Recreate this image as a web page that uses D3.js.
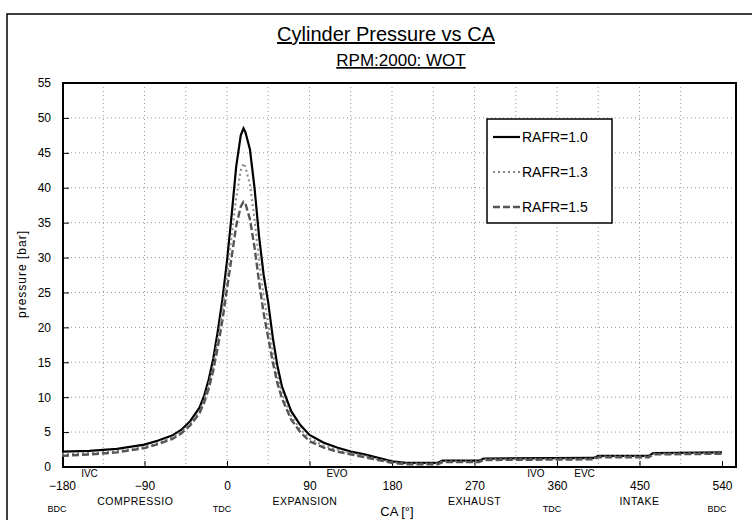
<!DOCTYPE html>
<html>
<head>
<meta charset="utf-8">
<script src="https://cdn.jsdelivr.net/npm/d3@7"></script>
<style>
  body { margin: 0; background: #fff; }
  svg { font-family: "Liberation Sans", Arial, sans-serif; }
  .axis path, .axis line { stroke: #000; }
  .grid line { stroke: #999; stroke-dasharray: 1,3; }
</style>
</head>
<body>
<div id="chart"></div>
<script>
// Crank angle [deg] and cylinder pressure [bar] for each relative AFR
var ca = [-180, -150, -120, -90, -75, -60, -50, -40, -30, -25, -20, -15, -10, -5, 0, 5, 10, 15, 18, 20,
          25, 30, 35, 40, 45, 50, 55, 60, 70, 80, 90, 105, 120, 135, 150, 165, 180, 195, 230, 235,
          275, 280, 400, 405, 460, 465, 540];

var rafr10 = [2.2, 2.3, 2.6, 3.2, 3.8, 4.5, 5.3, 6.6, 8.5, 10.2, 12.5, 15.5, 19.5, 24, 29.5, 36, 43, 47.5, 48.5, 48,
              45.5, 40, 33, 27.5, 23.5, 18.5, 14.5, 11.5, 8, 6, 4.6, 3.5, 2.8, 2.2, 1.8, 1.3, 0.8, 0.6, 0.6, 0.9,
              0.9, 1.2, 1.3, 1.6, 1.6, 2.0, 2.1];
var rafr13 = [1.9, 2.0, 2.3, 2.9, 3.5, 4.2, 5.0, 6.2, 8.0, 9.6, 11.8, 14.6, 18.3, 22.5, 27.5, 33, 38.5, 42.5, 43.5, 43,
              40.5, 35.5, 29.5, 24.5, 20.5, 16.5, 13, 10.5, 7.3, 5.4, 4.1, 3.1, 2.5, 2.0, 1.6, 1.1, 0.7, 0.5, 0.5, 0.8,
              0.8, 1.1, 1.2, 1.5, 1.5, 1.9, 2.0];
var rafr15 = [1.6, 1.8, 2.1, 2.7, 3.3, 4.0, 4.8, 6.0, 7.7, 9.2, 11.2, 13.8, 17.2, 21, 25.5, 30, 34.5, 37.3, 38, 37.8,
              35.5, 31.5, 26.5, 22, 18.5, 15, 12, 9.8, 6.8, 5.0, 3.7, 2.8, 2.2, 1.8, 1.4, 1.0, 0.6, 0.4, 0.4, 0.7,
              0.7, 1.0, 1.1, 1.4, 1.4, 1.8, 1.9];

var seriesNames = ["RAFR=1.0", "RAFR=1.3", "RAFR=1.5"];
var xTicks = [-180, -90, 0, 90, 180, 270, 360, 450, 540];
var yTicks = [0, 5, 10, 15, 20, 25, 30, 35, 40, 45, 50, 55];

// stroke phases and dead centres under the axis
var phaseLabels = [{ca: -100, text: "COMPRESSIO"}, {ca: 85, text: "EXPANSION"},
                   {ca: 270, text: "EXHAUST"}, {ca: 450, text: "INTAKE"}];
var centreLabels = [{ca: -180, text: "BDC"}, {ca: 0, text: "TDC"},
                    {ca: 360, text: "TDC"}, {ca: 540, text: "BDC"}];
var valveLabels = [{ca: -150, text: "IVC"}, {ca: 120, text: "EVO"},
                   {ca: 337, text: "IVO"}, {ca: 390, text: "EVC"}];

var width = 752, height = 520;
var plot = {left: 63, right: 736, top: 83, bottom: 467};

var x = d3.scaleLinear().domain([-180, 540]).range([62, 722]);
var y = d3.scaleLinear().domain([0, 55]).range([plot.bottom, plot.top]);

var svg = d3.select("#chart").append("svg")
    .attr("width", width)
    .attr("height", height);

// outer chart frame
svg.append("rect")
    .attr("x", 7).attr("y", 14)
    .attr("width", 760).attr("height", 520)
    .attr("fill", "none").attr("stroke", "#000").attr("stroke-width", 1.5);

// titles
svg.append("text")
    .attr("x", 386).attr("y", 41)
    .attr("text-anchor", "middle")
    .attr("text-decoration", "underline")
    .style("font-size", "20px")
    .text("Cylinder Pressure vs CA");
svg.append("text")
    .attr("x", 401).attr("y", 66)
    .attr("text-anchor", "middle")
    .attr("text-decoration", "underline")
    .style("font-size", "17px")
    .text("RPM:2000: WOT");

// gridlines
svg.append("g").attr("class", "grid")
  .selectAll("line")
  .data(d3.range(-135, 540, 45))
  .enter().append("line")
    .attr("x1", function(d) { return x(d); })
    .attr("x2", function(d) { return x(d); })
    .attr("y1", plot.top).attr("y2", plot.bottom);
svg.append("g").attr("class", "grid")
  .selectAll("line")
  .data(yTicks.slice(1, -1))
  .enter().append("line")
    .attr("x1", plot.left).attr("x2", plot.right)
    .attr("y1", function(d) { return y(d); })
    .attr("y2", function(d) { return y(d); });

// plot frame
svg.append("rect")
    .attr("x", plot.left).attr("y", plot.top)
    .attr("width", plot.right - plot.left).attr("height", plot.bottom - plot.top)
    .attr("fill", "none").attr("stroke", "#000").attr("stroke-width", 2);

// y axis
var yAxis = svg.append("g")
    .attr("class", "axis")
    .attr("transform", "translate(" + plot.left + ",0)")
    .call(d3.axisRight(y).tickValues(yTicks).tickSize(6).tickFormat(d3.format("d")));
yAxis.select(".domain").remove();
yAxis.selectAll("text")
    .attr("x", -12)
    .attr("text-anchor", "end")
    .style("font-size", "12px")
    .style("font-family", "Liberation Sans, Arial, sans-serif");

svg.append("text")
    .attr("transform", "rotate(-90)")
    .attr("x", -274).attr("y", 26)
    .attr("text-anchor", "middle")
    .style("font-size", "12px")
    .style("letter-spacing", "1px")
    .text("pressure [bar]");

// x axis
var xAxis = svg.append("g")
    .attr("class", "axis")
    .attr("transform", "translate(0," + plot.bottom + ")")
    .call(d3.axisTop(x).tickValues(xTicks).tickSize(6));
xAxis.select(".domain").remove();
xAxis.selectAll("text")
    .attr("y", 23)
    .attr("dy", "0")
    .style("font-size", "12px")
    .style("font-family", "Liberation Sans, Arial, sans-serif");

svg.append("g").selectAll("text")
    .data(phaseLabels)
  .enter().append("text")
    .attr("x", function(d) { return x(d.ca); })
    .attr("y", 505)
    .attr("text-anchor", "middle")
    .style("font-size", "10.5px")
    .style("letter-spacing", "0.5px")
    .text(function(d) { return d.text; });

svg.append("g").selectAll("text")
    .data(centreLabels)
  .enter().append("text")
    .attr("x", function(d) { return x(d.ca) - 5; })
    .attr("y", 512)
    .attr("text-anchor", "middle")
    .style("font-size", "9px")
    .text(function(d) { return d.text; });

svg.append("g").selectAll("text")
    .data(valveLabels)
  .enter().append("text")
    .attr("x", function(d) { return x(d.ca); })
    .attr("y", 477)
    .attr("text-anchor", "middle")
    .style("font-size", "10px")
    .text(function(d) { return d.text; });

svg.append("text")
    .attr("x", 397).attr("y", 516)
    .attr("text-anchor", "middle")
    .style("font-size", "13px")
    .text("CA [\u00b0]");

// pressure curves
var styles = [
  {stroke: "#000", width: 2.2, dash: null},
  {stroke: "#888", width: 2, dash: "2,3"},
  {stroke: "#555", width: 2.4, dash: "7,3"}
];
var seriesValues = [rafr10, rafr13, rafr15];

var line = d3.line()
    .x(function(d) { return x(d[0]); })
    .y(function(d) { return y(d[1]); });

seriesValues.forEach(function(vals, i) {
  svg.append("path")
      .datum(d3.zip(ca, vals))
      .attr("d", line)
      .attr("fill", "none")
      .attr("stroke", styles[i].stroke)
      .attr("stroke-width", styles[i].width)
      .attr("stroke-dasharray", styles[i].dash);
});

// legend
var legend = svg.append("g").attr("transform", "translate(487,119)");
legend.append("rect")
    .attr("width", 125).attr("height", 104)
    .attr("fill", "#fff").attr("stroke", "#000").attr("stroke-width", 1.5);
seriesNames.forEach(function(name, i) {
  var ly = 18 + i * 35;
  legend.append("line")
      .attr("x1", 6).attr("x2", 33)
      .attr("y1", ly).attr("y2", ly)
      .attr("stroke", styles[i].stroke)
      .attr("stroke-width", styles[i].width)
      .attr("stroke-dasharray", styles[i].dash);
  legend.append("text")
      .attr("x", 35).attr("y", ly + 5)
      .style("font-size", "14px")
      .text(name);
});
</script>
</body>
</html>
